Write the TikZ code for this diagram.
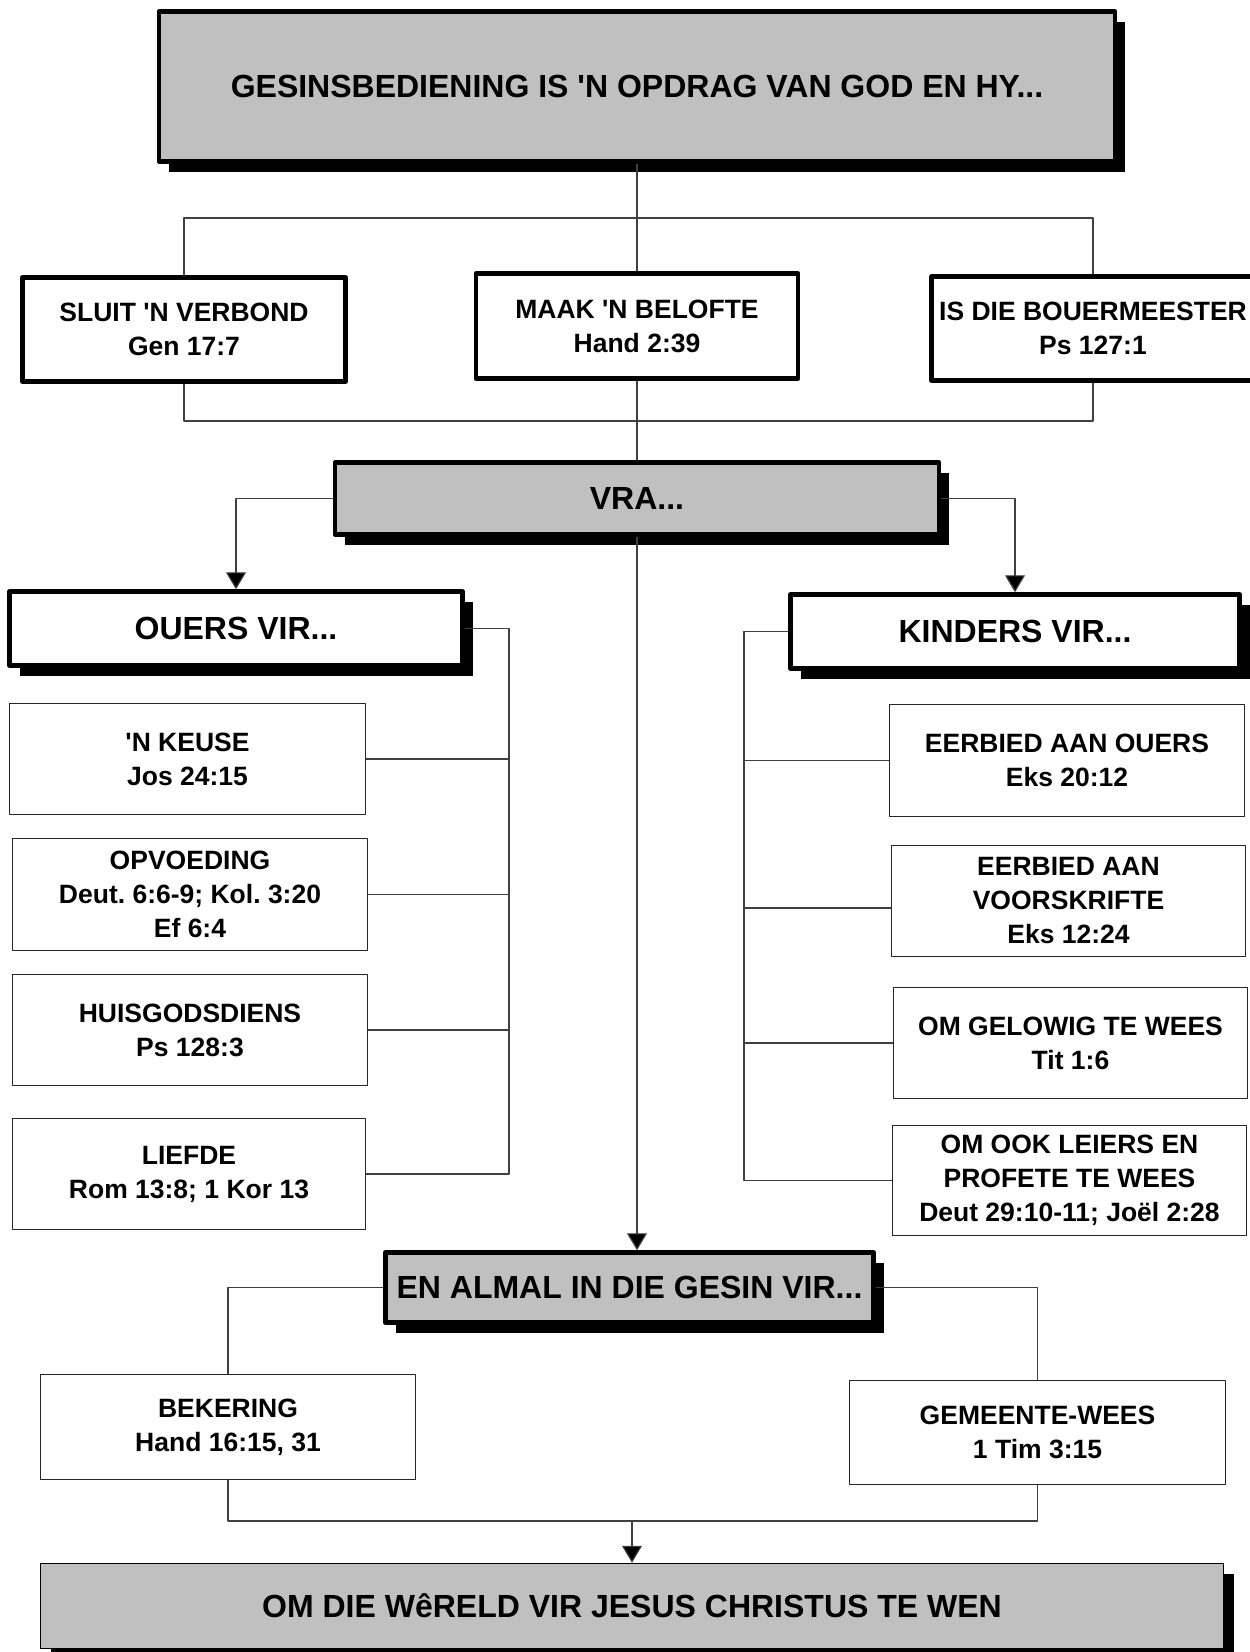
\documentclass[tikz,border=0pt]{standalone}
\usepackage{fontspec}
\setmainfont{Liberation Sans}
\usetikzlibrary{shadows,arrows.meta}
\definecolor{boxgrey}{HTML}{C0C0C0}
\frenchspacing
\begin{document}
\begin{tikzpicture}[x=1pt, y=-1pt, line join=round,
		font=\bfseries\fontsize{26.5}{34}\selectfont,
		big/.style={font=\bfseries\fontsize{32}{38}\selectfont},
		subbox/.style={draw=black!85, line width=1.3pt, fill=white, align=center, inner sep=0pt},
		thickbox/.style={draw=black, line width=4.5pt, fill=white, align=center, inner sep=0pt},
		headbox/.style={thickbox, big, drop shadow={shadow xshift=10pt, shadow yshift=-10pt, opacity=1, fill=black}},
		greybox/.style={headbox, fill=boxgrey},
		conn/.style={draw=black!75, line width=1.2pt},
		arr/.style={conn, -{Triangle[width=20pt, length=17pt, fill=black]}}]
	\useasboundingbox (0,0) rectangle (1250,1652);
	% boxes
	\node[greybox, minimum width=956pt, minimum height=150pt] (title) at (637,86.5) {GESINSBEDIENING IS \textquotesingle N OPDRAG VAN GOD EN HY...};
	\node[thickbox, minimum width=323pt, minimum height=104pt] (sluit) at (184,329.5) {SLUIT \textquotesingle N VERBOND\\Gen 17:7};
	\node[thickbox, minimum width=322pt, minimum height=105pt] (maak) at (637,326) {MAAK \textquotesingle N BELOFTE\\Hand 2:39};
	\node[thickbox, minimum width=323pt, minimum height=104pt] (bouer) at (1093,328.5) {IS DIE BOUERMEESTER\\Ps 127:1};
	\node[greybox, minimum width=604pt, minimum height=72pt] (vra) at (637,498.5) {VRA...};
	\node[headbox, minimum width=453pt, minimum height=74pt] (ouers) at (236,628.5) {OUERS VIR...};
	\node[headbox, minimum width=449pt, minimum height=74pt] (kinders) at (1015,631.5) {KINDERS VIR...};
	\node[subbox, minimum width=356pt, minimum height=111pt] (keuse) at (187.5,759) {\textquotesingle N KEUSE\\Jos 24:15};
	\node[subbox, minimum width=355pt, minimum height=112pt] (opvoed) at (190,894.5) {OPVOEDING\\Deut. 6:6-9; Kol. 3:20\\Ef 6:4};
	\node[subbox, minimum width=355pt, minimum height=111pt] (huis) at (190,1030) {HUISGODSDIENS\\Ps 128:3};
	\node[subbox, minimum width=353pt, minimum height=111pt] (liefde) at (189,1174) {LIEFDE\\Rom 13:8; 1 Kor 13};
	\node[subbox, minimum width=355pt, minimum height=112pt] (eerb) at (1067,760.5) {EERBIED AAN OUERS\\Eks 20:12};
	\node[subbox, minimum width=354pt, minimum height=111pt] (vsk) at (1068.5,901) {EERBIED AAN\\VOORSKRIFTE\\Eks 12:24};
	\node[subbox, minimum width=354pt, minimum height=111pt] (gelowig) at (1070.5,1043) {OM GELOWIG TE WEES\\Tit 1:6};
	\node[subbox, minimum width=354pt, minimum height=110pt] (leiers) at (1069.5,1180.5) {OM OOK LEIERS EN\\PROFETE TE WEES\\Deut 29:10-11; Joël 2:28};
	\node[greybox, minimum width=488pt, minimum height=70pt] (almal) at (629.5,1287.5) {EN ALMAL IN DIE GESIN VIR...};
	\node[subbox, minimum width=375pt, minimum height=105pt] (bekering) at (228,1427) {BEKERING\\Hand 16:15, 31};
	\node[subbox, minimum width=376pt, minimum height=104pt] (gemeente) at (1037.5,1432.5) {GEMEENTE-WEES\\1 Tim 3:15};
	\node[greybox, line width=1.5pt, minimum width=1183pt, minimum height=85pt] (final) at (632,1606) {OM DIE WêRELD VIR JESUS CHRISTUS TE WEN};
	% connectors
	\coordinate (tbar) at (637,218);
	\coordinate (bbar) at (637,421);
	\coordinate (lb) at (509,0);
	\coordinate (rb) at (744,0);
	\coordinate (fbar) at (632,1521);
	\coordinate (vskw) at ([yshift=-7pt]vsk.west);
	\draw[conn] (title.south) -- (tbar);
	\draw[conn] (sluit.north) |- (tbar) -| (bouer.north);
	\draw[conn] (tbar) -- (maak.north);
	\draw[conn] (sluit.south) |- (bbar) -| (bouer.south);
	\draw[conn] (maak.south) -- (vra.north);
	\draw[arr] (vra.west) -| (ouers.north);
	\draw[arr] (vra.east) -| (kinders.north);
	\draw[conn] (ouers.east) -| (lb |- liefde.east) -- (liefde.east);
	\foreach \n in {keuse, opvoed, huis}
		\draw[conn] (\n.east) -- (lb |- \n.east);
	\draw[conn] (kinders.west) -| (rb |- leiers.west) -- (leiers.west);
	\foreach \n in {eerb, gelowig}
		\draw[conn] (\n.west) -- (rb |- \n.west);
	\draw[conn] (vskw) -- (rb |- vskw);
	\draw[arr] (vra.south) -- (vra.south |- almal.north);
	\draw[conn] (almal.west) -| (bekering.north);
	\draw[conn] (almal.east) -| (gemeente.north);
	\draw[conn] (bekering.south) |- (fbar) -| (gemeente.south);
	\draw[arr] (fbar) -- (final.north);
\end{tikzpicture}
\end{document}
